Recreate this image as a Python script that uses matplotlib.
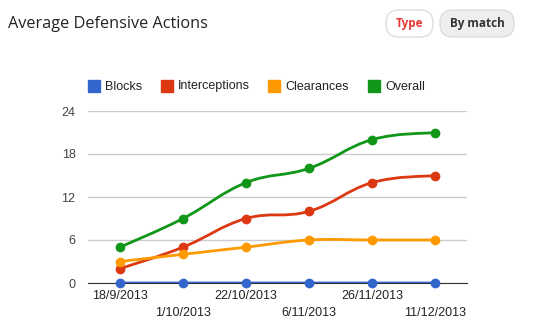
import numpy as np
import matplotlib
matplotlib.use("Agg")
import matplotlib.pyplot as plt
from matplotlib.path import Path
from matplotlib.patches import PathPatch, FancyBboxPatch

# data
dates = ["18/9/2013", "1/10/2013", "22/10/2013", "6/11/2013", "26/11/2013", "11/12/2013"]
blocks = [0, 0, 0, 0, 0, 0]
interceptions = [2, 5, 9, 10, 14, 15]
clearances = [3, 4, 5, 6, 6, 6]
overall = [5, 9, 14, 16, 20, 21]
series_names = ["Blocks", "Interceptions", "Clearances", "Overall"]
colors = ["#3366cc", "#dc3912", "#ff9900", "#109618"]
yticks = [0, 6, 12, 18, 24]

plt.rcParams['font.family'] = ['Liberation Sans', 'DejaVu Sans']

fig = plt.figure(figsize=(5.45, 3.31), dpi=100)
W, H = 545, 331

# overlay in pixel coords for title / buttons / legend
ov = fig.add_axes([0, 0, 1, 1])
ov.set_xlim(0, W)
ov.set_ylim(H, 0)
ov.axis('off')

ax = fig.add_axes([88 / W, 1 - 283 / H, (467 - 88) / W, (283 - 111) / H])

def smooth_path(xs, ys, k=1 / 5):
    # cubic bezier between points (curved line style like the original)
    n = len(xs)
    verts = [(xs[0], ys[0])]
    codes = [Path.MOVETO]
    for i in range(n - 1):
        x0, y0 = xs[max(i - 1, 0)], ys[max(i - 1, 0)]
        x1, y1 = xs[i], ys[i]
        x2, y2 = xs[i + 1], ys[i + 1]
        x3, y3 = xs[min(i + 2, n - 1)], ys[min(i + 2, n - 1)]
        c1 = (x1 + (x2 - x0) * k, y1 + (y2 - y0) * k)
        c2 = (x2 - (x3 - x1) * k, y2 - (y3 - y1) * k)
        verts += [c1, c2, (x2, y2)]
        codes += [Path.CURVE4] * 3
    return Path(verts, codes)

x = np.arange(len(dates))
for vals, c in zip([blocks, interceptions, clearances, overall], colors):
    ax.add_patch(PathPatch(smooth_path(x, vals), fill=False, edgecolor=c, lw=2, zorder=3))
    ax.plot(x, vals, 'o', color=c, ms=6, zorder=4, clip_on=False)

ax.set_xlim(-0.508, 5.508)
ax.set_ylim(0, 24)
ax.set_yticks(yticks)
ax.set_yticklabels([str(t) for t in yticks])
ax.set_xticks(x)
ax.set_xticklabels([])
ax.grid(axis='y', color='#cccccc', lw=1)
ax.set_axisbelow(True)
for s in ['top', 'right', 'left']:
    ax.spines[s].set_visible(False)
ax.spines['bottom'].set_color('#333333')
ax.spines['bottom'].set_zorder(2)
ax.tick_params(length=0, labelsize=9, colors='#444444', pad=9)

# alternating x labels
for i, d in enumerate(dates):
    off = -13 if i % 2 == 0 else -30
    ax.annotate(d, (i, 0), xytext=(0, off), textcoords='offset pixels',
                ha='center', va='center', fontsize=9, color='#222222', annotation_clip=False)

# legend
leg_x = [88, 161, 268, 368]
for lx, name, c in zip(leg_x, series_names, colors):
    ov.add_patch(plt.Rectangle((lx, 80), 12, 12, color=c))
    ov.text(lx + 17, 86.5, name, fontsize=9, color='#222222', va='center')

# title and buttons
ov.text(8, 24, "Average Defensive Actions", fontsize=11.7, color='#222222',
        va='center', family=['Open Sans', 'DejaVu Sans'])
ov.add_patch(FancyBboxPatch((386, 10), 47, 27, boxstyle="round,pad=0,rounding_size=13",
                            facecolor='white', edgecolor='#dddddd', lw=1))
ov.add_patch(FancyBboxPatch((440, 10), 74, 27, boxstyle="round,pad=0,rounding_size=13",
                            facecolor='#eeeeee', edgecolor='#dddddd', lw=1))
ov.text(409.5, 24, "Type", fontsize=8.5, color='#e53935', weight='bold',
        ha='center', va='center', family=['Open Sans', 'DejaVu Sans'])
ov.text(477, 24, "By match", fontsize=8.5, color='#333333', weight='bold',
        ha='center', va='center', family=['Open Sans', 'DejaVu Sans'])

fig.savefig("out.png", dpi=100)
